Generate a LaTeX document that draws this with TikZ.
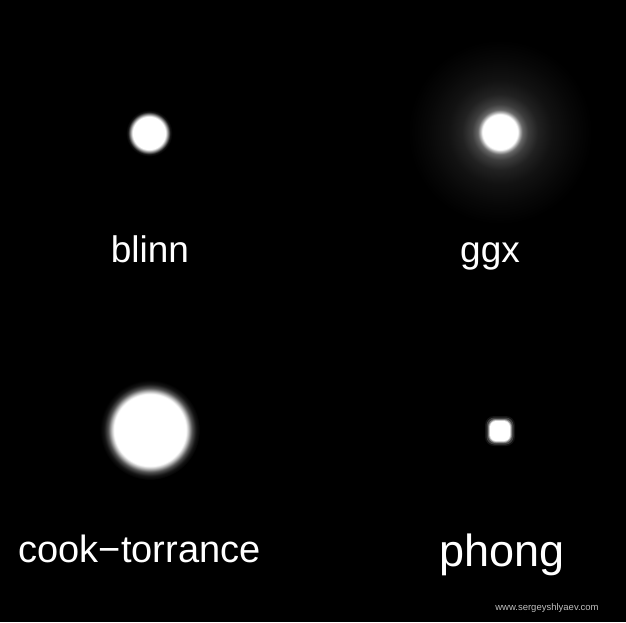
\documentclass[tikz,border=0pt]{standalone}
\usepackage{fontspec}
\setmainfont{Liberation Sans}
\usepackage{xcolor}

% soft edges of the highlights (25bp = radius of the shaded circle)
\pgfdeclareradialshading{blinnspot}{\pgfpoint{0bp}{0bp}}{color(0bp)=(white); color(16.5bp)=(white); color(18.5bp)=(white!60!black); color(21bp)=(white!10!black); color(23bp)=(black); color(50bp)=(black)}
\pgfdeclareradialshading{ggxspot}{\pgfpoint{0bp}{0bp}}{color(0bp)=(white); color(4.4bp)=(white); color(4.9bp)=(white!72!black); color(5.6bp)=(white!40!black); color(7bp)=(white!24!black); color(9.5bp)=(white!13!black); color(13bp)=(white!7!black); color(18bp)=(white!3!black); color(23bp)=(black); color(50bp)=(black)}
\pgfdeclareradialshading{cookspot}{\pgfpoint{0bp}{0bp}}{color(0bp)=(white); color(18bp)=(white); color(19.2bp)=(white!75!black); color(21bp)=(white!32!black); color(23bp)=(white!8!black); color(25bp)=(black); color(50bp)=(black)}

\begin{document}
\begin{tikzpicture}[x=1pt,y=-1pt,
  lbl/.style={text=white,anchor=base,inner sep=0pt,font=\fontsize{37}{40}\selectfont}]
\fill[black] (0,0) rectangle (626,622);
\useasboundingbox (0,0) rectangle (626,622);
% highlights
\shade[shading=blinnspot] (149,133) circle (25);
\shade[shading=ggxspot] (500,132) circle (100);
\shade[shading=cookspot] (150,430) circle (50);
\fill[white!8!black,rounded corners=9pt] (485,416) rectangle (515,446);
\fill[white!25!black,rounded corners=8pt] (486.5,417.5) rectangle (513.5,444.5);
\fill[white!50!black,rounded corners=7.5pt] (488,419) rectangle (512,443);
\fill[white!80!black,rounded corners=7pt] (489,420) rectangle (511,442);
\fill[white,rounded corners=6pt] (490,421) rectangle (510,441);
% names
\node[lbl] (blinn) at (150,262) {blinn};
\node[lbl] (ggx) at (490,262) {ggx};
\node[lbl,font=\fontsize{38}{40}\selectfont] (cook) at (139.5,562) {cook−torrance};
\node[lbl,font=\fontsize{45}{48}\selectfont] (phong) at (502,566) {phong};
\node[anchor=base,inner sep=0pt,text=white!75!black,font=\fontsize{9.5}{11}\selectfont] (site) at (547,610) {www.sergeyshlyaev.com};
\end{tikzpicture}
\end{document}
